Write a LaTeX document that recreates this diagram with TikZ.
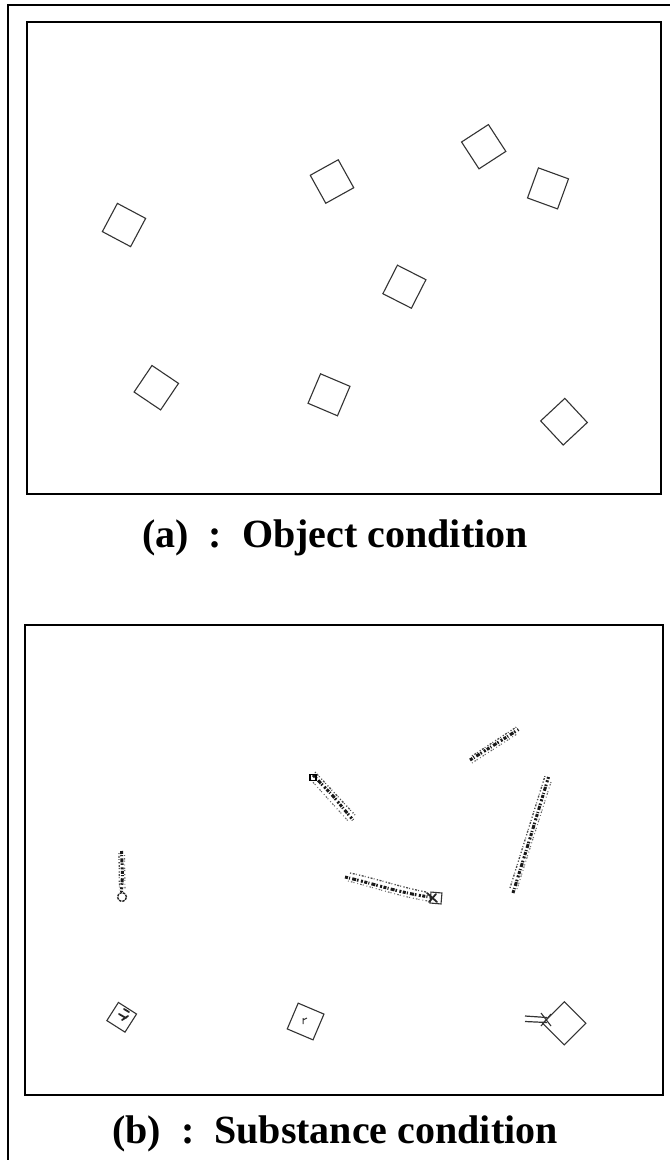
\documentclass[tikz,border=0pt]{standalone}
\usepackage{fontspec}
\setmainfont{Liberation Serif}
\begin{document}
\begin{tikzpicture}[x=1pt,y=-1pt,
  panel/.style={line width=2pt,black},
  sq/.style={draw=black!80,line width=1.1pt,inner sep=0pt,minimum size=#1},
  sq/.default=32pt,
  caption/.style={font=\fontsize{40}{46}\selectfont\bfseries,inner sep=0pt},
  grain/.style={line width=3pt,black!90,line cap=butt,
    dash pattern=on 3pt off 1.2pt on 1pt off 2.2pt on 4pt off 1pt on 1.5pt off 2.5pt on 2pt off 1.5pt},
  fuzz/.style={line width=1.3pt,black!70,
    dash pattern=on 1.2pt off 1.6pt on 2pt off 1.2pt on 0.8pt off 2.4pt},
  fuzzb/.style={line width=1.1pt,black!60,
    dash pattern=on 0.8pt off 2.2pt on 1.6pt off 1pt on 1pt off 3pt},
  speck/.style={line width=1.8pt,black!85,line cap=round}]
\useasboundingbox (0,0) rectangle (670,1160);
\fill[white] (0,0) rectangle (670,1160);

% outer border (left and top edges)
\draw[line width=1.3pt] (8,1160) -- (8,5) -- (670,5);

% panel (a): object condition
\draw[panel] (27,22) rectangle (661,494);
\node[sq,rotate=-28] (a1) at (124,225) {};
\node[sq,rotate=29]  (a2) at (332,181.5) {};
\node[sq,rotate=33]  (a3) at (483.7,146.7) {};
\node[sq,rotate=-20] (a4) at (548,188.4) {};
\node[sq,rotate=-27] (a5) at (404.4,286.7) {};
\node[sq,rotate=-34] (a6) at (156.3,387.7) {};
\node[sq,rotate=-23] (a7) at (329,394.8) {};
\node[sq=33pt,rotate=43] (a8) at (564,421.7) {};
\node[caption] (capA) at (335,538) {(a)\hspace{0.5em}:\hspace{0.5em}Object condition};

% panel (b): substance condition
\draw[panel] (25,625) rectangle (663,1095);

% smeared strokes: a dashed core with two ragged edges
\draw[grain] (121.5,851) -- (122.5,875) -- (121.5,892);
\draw[fuzz] (119,853) -- (119.5,890);
\draw[fuzzb] (124.5,855) -- (125,889);
\draw[line width=1.4pt,black!85,dash pattern=on 2.5pt off 1pt] (122,897) circle[radius=4.5pt];

\draw[grain] (313,775) -- (333,796) -- (353,820);
\draw[fuzz] (315,772) -- (355,815);
\draw[fuzzb] (311,780) -- (349,822);
\node[draw=black,line width=1.6pt,minimum size=6pt,inner sep=0pt] (b2) at (313,777.5) {};

\draw[grain] (345,877) .. controls (375,884) and (400,893) .. (430,897);
\draw[fuzz] (350,873) .. controls (378,879) and (400,887) .. (426,892);
\draw[fuzzb] (348,881) .. controls (376,888) and (402,897) .. (428,901);
\node[draw=black!80,line width=1.1pt,minimum size=11pt,inner sep=0pt,rotate=-5] (b3) at (436,898) {};
\draw[speck] (427,893) -- (437,902) (429,902) -- (436,894);

\draw[grain] (470,760) -- (494,745) -- (518.5,729.5);
\draw[fuzz] (472,756) -- (518,726);
\draw[fuzzb] (472,763) -- (517,734);

\draw[grain] (513,893) -- (531,835) -- (548.5,777);
\draw[fuzz] (510,888) -- (545,776);
\draw[fuzzb] (517,889) -- (551,782);

% small squares
\node[sq=21.5pt,rotate=-32.5] (b6) at (121.7,1017.3) {};
\draw[speck] (119,1014) -- (126,1018) (124,1009) -- (129,1012) (122,1020) -- (128,1016);
\node[sq=28pt,rotate=-23] (b7) at (305.6,1021.5) {};
\draw[line width=1pt,black!80] (303,1018) -- (303,1024) (303,1020) -- (307,1018);
\node[sq=30.5pt,rotate=45] (b8) at (564.3,1023.3) {};
\draw[line width=1.2pt,black!80] (525,1016) -- (547,1017.5) (525,1021.5) -- (547,1022.5);
\draw[line width=1.1pt,black!80] (541,1013) -- (551,1026) (541,1026) -- (551,1014);

\node[caption] (capB) at (335,1134) {(b)\hspace{0.5em}:\hspace{0.5em}Substance condition};
\end{tikzpicture}
\end{document}
